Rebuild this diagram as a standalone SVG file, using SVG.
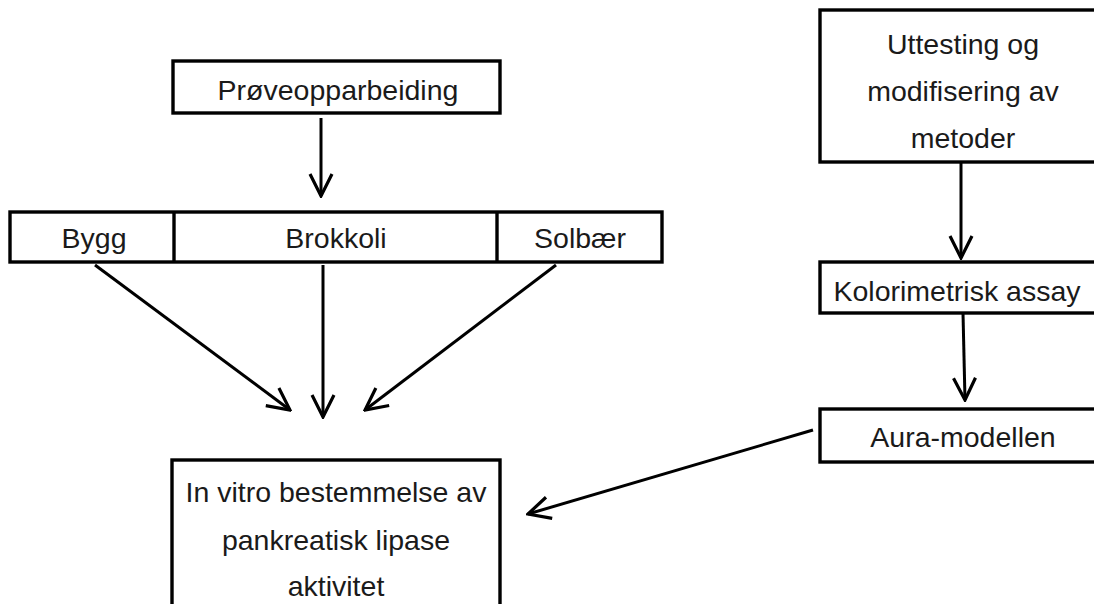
<svg xmlns="http://www.w3.org/2000/svg" width="1094" height="604" viewBox="0 0 1094 604">
<defs>
<marker id="arr" viewBox="0 0 26 26" refX="24" refY="13" markerWidth="26" markerHeight="26" markerUnits="userSpaceOnUse" orient="auto">
<path d="M2,2 L24,13 L2,24" fill="none" stroke="#000" stroke-width="3.2"/>
</marker>
<style>
.box{fill:#fff;stroke:#000;stroke-width:3.4}
.t{font-family:"Liberation Sans",Arial,sans-serif;font-size:28.5px;fill:#1a1a1a;text-anchor:middle}
.c{fill:none;stroke:#000;stroke-width:3;marker-end:url(#arr)}
</style>
</defs>
<rect width="1094" height="604" fill="#fff"/>
<g id="proveopparbeiding">
<rect class="box" x="173" y="61" width="327" height="52"/>
<text class="t" x="338" y="100">Prøveopparbeiding</text>
</g>
<g id="rad">
<rect class="box" x="10" y="212" width="652" height="50"/>
<line x1="174" y1="212" x2="174" y2="262" stroke="#000" stroke-width="3.4"/>
<line x1="497" y1="212" x2="497" y2="262" stroke="#000" stroke-width="3.4"/>
</g>
<g id="bygg"><text class="t" x="94" y="248">Bygg</text></g>
<g id="brokkoli"><text class="t" x="336" y="248">Brokkoli</text></g>
<g id="solbaer"><text class="t" x="580" y="248">Solbær</text></g>
<g id="uttesting">
<rect class="box" x="820" y="10" width="280" height="152"/>
<text class="t" x="963" y="54">Uttesting og</text>
<text class="t" x="963" y="101">modifisering av</text>
<text class="t" x="963" y="148">metoder</text>
</g>
<g id="kolorimetrisk">
<rect class="box" x="820" y="262" width="280" height="51"/>
<text class="t" x="957" y="301">Kolorimetrisk assay</text>
</g>
<g id="aura">
<rect class="box" x="820" y="409" width="280" height="53"/>
<text class="t" x="963" y="447">Aura-modellen</text>
</g>
<g id="invitro">
<rect class="box" x="172" y="460" width="328" height="150"/>
<text class="t" x="336" y="502">In vitro bestemmelse av</text>
<text class="t" x="336" y="550">pankreatisk lipase</text>
<text class="t" x="336" y="596">aktivitet</text>
</g>
<g id="connectors">
<line class="c" x1="321" y1="118" x2="321" y2="196"/>
<line class="c" x1="95" y1="265" x2="290" y2="410"/>
<line class="c" x1="323" y1="265" x2="323" y2="417"/>
<line class="c" x1="556" y1="265" x2="365" y2="410"/>
<line class="c" x1="961" y1="162" x2="961" y2="258"/>
<line class="c" x1="963" y1="313" x2="965" y2="400"/>
<line class="c" x1="813" y1="430" x2="528" y2="514"/>
</g>
</svg>
